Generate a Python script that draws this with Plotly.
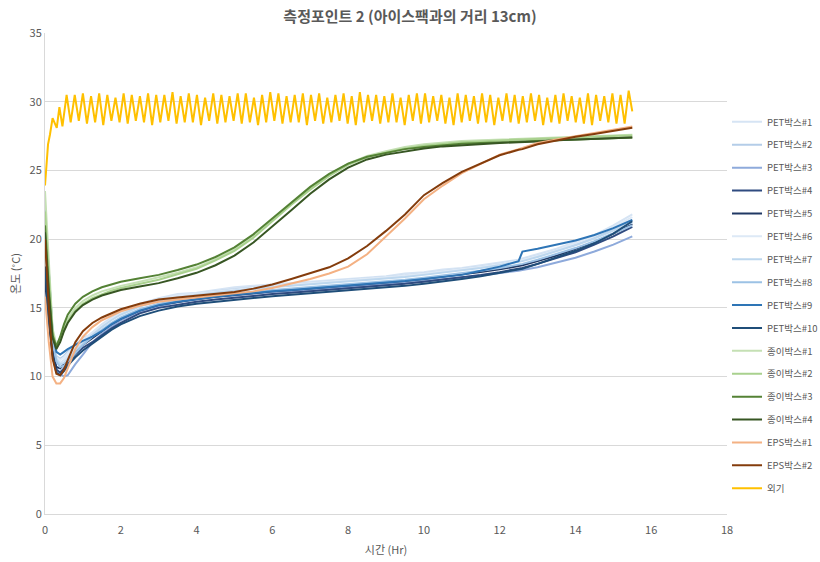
import plotly.graph_objects as go

# ---------------- data ----------------
t_hr = [0, 0.1, 0.2, 0.3, 0.4, 0.5, 0.6, 0.8, 1.0, 1.25, 1.5, 1.75, 2.0, 2.5, 3.0, 3.5, 4.0, 4.5, 5.0, 5.5,
        6.0, 6.5, 7.0, 7.5, 8.0, 8.5, 9.0, 9.5, 10.0, 10.5, 11.0, 11.5, 12.0, 12.5, 12.6, 13.0, 13.5, 14.0,
        14.5, 15.0, 15.5]

pet1 = [18.5, 15.5, 12.5, 11.2, 11.0, 11.2, 11.5, 12.1, 12.6, 13.2, 13.8, 14.3, 14.7, 15.3, 15.7, 16.0, 16.1,
        16.3, 16.5, 16.6, 16.7, 16.8, 16.9, 17.0, 17.1, 17.2, 17.3, 17.5, 17.6, 17.8, 17.9, 18.1, 18.3, 18.5,
        18.6, 18.9, 19.3, 19.8, 20.3, 21.0, 21.8]
pet2 = [22.0, 17.0, 13.0, 11.5, 11.3, 11.5, 11.8, 12.3, 12.8, 13.1, 13.7, 14.2, 14.6, 15.2, 15.6, 15.85, 16.05,
        16.2, 16.35, 16.5, 16.6, 16.7, 16.8, 16.9, 17.0, 17.1, 17.2, 17.35, 17.5, 17.65, 17.8, 18.0, 18.2, 18.45,
        18.5, 18.8, 19.2, 19.6, 20.1, 20.7, 21.4]
pet3 = [21.0, 16.0, 12.3, 10.6, 10.2, 10.0, 10.1, 10.9, 11.6, 12.5, 13.1, 13.6, 14.1, 14.7, 15.1, 15.4, 15.6,
        15.8, 15.9, 16.05, 16.15, 16.2, 16.3, 16.4, 16.5, 16.55, 16.7, 16.8, 16.95, 17.05, 17.2, 17.35, 17.5,
        17.7, 17.75, 17.95, 18.3, 18.65, 19.1, 19.6, 20.2]
pet4 = [18.0, 14.5, 11.8, 10.5, 10.3, 10.6, 11.0, 11.6, 12.1, 12.5, 13.0, 13.5, 13.9, 14.6, 15.0, 15.25, 15.45,
        15.6, 15.75, 15.9, 16.0, 16.1, 16.2, 16.3, 16.4, 16.5, 16.6, 16.75, 16.9, 17.05, 17.2, 17.4, 17.6, 17.85,
        17.9, 18.2, 18.6, 19.05, 19.6, 20.2, 20.9]
pet5 = [17.0, 14.0, 11.6, 10.7, 10.6, 10.9, 11.2, 11.8, 12.3, 12.8, 13.3, 13.8, 14.2, 14.8, 15.2, 15.45, 15.65,
        15.8, 15.95, 16.1, 16.2, 16.3, 16.4, 16.5, 16.6, 16.7, 16.8, 16.95, 17.1, 17.25, 17.4, 17.6, 17.8, 18.05,
        18.1, 18.4, 18.8, 19.3, 19.8, 20.4, 21.1]
pet6 = [19.5, 16.0, 12.8, 11.4, 11.2, 11.4, 11.7, 12.2, 12.7, 13.2, 13.7, 14.2, 14.6, 15.2, 15.6, 15.9, 16.05,
        16.2, 16.35, 16.5, 16.6, 16.7, 16.8, 16.9, 17.0, 17.1, 17.2, 17.35, 17.5, 17.65, 17.8, 18.0, 18.2, 18.45,
        18.5, 18.8, 19.2, 19.7, 20.2, 20.9, 21.6]
pet7 = [20.5, 16.5, 12.9, 11.3, 10.9, 11.0, 11.3, 11.9, 12.4, 13.0, 13.6, 14.1, 14.5, 15.1, 15.5, 15.75, 15.95,
        16.1, 16.25, 16.4, 16.5, 16.6, 16.7, 16.8, 16.9, 17.0, 17.1, 17.25, 17.4, 17.55, 17.7, 17.9, 18.1, 18.35,
        18.4, 18.7, 19.1, 19.55, 20.05, 20.6, 21.2]
pet8 = [21.5, 16.8, 12.7, 11.1, 10.7, 10.8, 11.1, 11.7, 12.3, 12.9, 13.4, 13.9, 14.3, 14.9, 15.3, 15.55, 15.75,
        15.9, 16.05, 16.2, 16.3, 16.4, 16.5, 16.6, 16.7, 16.8, 16.9, 17.05, 17.2, 17.35, 17.5, 17.7, 17.9, 18.15,
        18.2, 18.5, 18.9, 19.35, 19.85, 20.4, 21.0]
pet9 = [22.2, 17.5, 13.3, 11.8, 11.6, 11.8, 12.0, 12.3, 12.6, 12.9, 13.3, 13.8, 14.2, 14.8, 15.2, 15.45, 15.65,
        15.8, 15.95, 16.1, 16.2, 16.3, 16.4, 16.5, 16.6, 16.7, 16.8, 16.95, 17.1, 17.25, 17.4, 17.7, 18.0, 18.4,
        19.1, 19.3, 19.6, 19.9, 20.3, 20.8, 21.4]
pet10 = [18.0, 14.2, 11.5, 10.3, 10.1, 10.4, 10.8, 11.4, 11.9, 12.4, 12.9, 13.4, 13.8, 14.4, 14.8, 15.1, 15.3,
         15.45, 15.6, 15.75, 15.85, 15.95, 16.05, 16.15, 16.25, 16.35, 16.45, 16.6, 16.75, 16.9, 17.1, 17.3,
         17.55, 17.8, 17.85, 18.2, 18.65, 19.15, 19.7, 20.4, 21.3]

paper1 = [23.5, 18.0, 13.5, 12.3, 12.8, 13.6, 14.2, 15.0, 15.5, 15.9, 16.2, 16.4, 16.6, 16.9, 17.2, 17.55, 17.95,
          18.55, 19.25, 20.2, 21.4, 22.6, 23.7, 24.7, 25.5, 26.05, 26.4, 26.7, 26.9, 27.05, 27.15, 27.2, 27.25,
          27.3, 27.3, 27.35, 27.4, 27.45, 27.5, 27.55, 27.6]
paper2 = [22.0, 17.2, 13.2, 12.1, 12.6, 13.4, 14.0, 14.8, 15.3, 15.7, 16.0, 16.25, 16.45, 16.75, 17.05, 17.45,
          17.85, 18.45, 19.15, 20.1, 21.3, 22.5, 23.6, 24.6, 25.4, 25.95, 26.3, 26.6, 26.8, 26.95, 27.05, 27.1,
          27.2, 27.25, 27.25, 27.3, 27.35, 27.4, 27.45, 27.5, 27.55]
paper3 = [21.0, 16.5, 13.0, 12.2, 12.9, 13.8, 14.5, 15.3, 15.8, 16.2, 16.5, 16.7, 16.9, 17.15, 17.4, 17.75, 18.15,
          18.7, 19.4, 20.35, 21.5, 22.7, 23.8, 24.75, 25.5, 26.0, 26.3, 26.55, 26.7, 26.85, 26.95, 27.0, 27.05,
          27.1, 27.1, 27.15, 27.2, 27.25, 27.3, 27.35, 27.4]
paper4 = [20.5, 16.0, 12.8, 12.0, 12.5, 13.3, 13.9, 14.7, 15.2, 15.6, 15.9, 16.1, 16.3, 16.55, 16.8, 17.15, 17.55,
          18.1, 18.8, 19.75, 20.9, 22.1, 23.3, 24.35, 25.2, 25.8, 26.15, 26.4, 26.6, 26.75, 26.85, 26.95, 27.0,
          27.05, 27.05, 27.1, 27.2, 27.25, 27.3, 27.35, 27.4]

eps1 = [15.8, 12.5, 10.0, 9.5, 9.5, 9.9, 10.6, 12.0, 12.9, 13.6, 14.1, 14.45, 14.75, 15.15, 15.45, 15.6, 15.75,
        15.85, 16.0, 16.2, 16.45, 16.75, 17.1, 17.5, 18.0, 18.9, 20.2, 21.5, 22.9, 23.9, 24.8, 25.5, 26.15, 26.55,
        26.65, 27.0, 27.25, 27.5, 27.7, 27.95, 28.2]
eps2 = [20.0, 15.0, 11.3, 10.2, 10.1, 10.5, 11.2, 12.5, 13.3, 13.9, 14.3, 14.6, 14.9, 15.3, 15.6, 15.75, 15.9,
        16.0, 16.15, 16.4, 16.7, 17.1, 17.55, 17.95, 18.6, 19.5, 20.6, 21.8, 23.2, 24.1, 24.9, 25.5, 26.1, 26.5,
        26.55, 26.9, 27.2, 27.45, 27.65, 27.9, 28.1]

# outside air: first warm-up readings, then alternating peak / trough readings of the regular cycle
out_t_start = [0, 0.04, 0.08, 0.13, 0.2, 0.31, 0.38, 0.46]
out_v_start = [23.9, 25.6, 26.9, 27.6, 28.8, 28.1, 29.6, 28.2]
out_cycle_start_hr = 0.57
out_half_cycle_hr = 0.1075
out_peaks = [30.5, 30.5, 30.6, 30.4, 30.6, 30.5, 30.3, 30.6, 30.5, 30.4,
             30.6, 30.5, 30.5, 30.7, 30.4, 30.6, 30.5, 30.3, 30.6, 30.5,
             30.4, 30.6, 30.6, 30.3, 30.5, 30.7, 30.6, 30.4, 30.5, 30.6,
             30.5, 30.6, 30.3, 30.5, 30.6, 30.4, 30.7, 30.5, 30.5, 30.4,
             30.6, 30.3, 30.5, 30.6, 30.6, 30.4, 30.5, 30.3, 30.6, 30.5,
             30.4, 30.6, 30.5, 30.3, 30.6, 30.5, 30.4, 30.6, 30.5, 30.3,
             30.5, 30.6, 30.4, 30.3, 30.6, 30.5, 30.4, 30.6, 30.5, 30.8]
out_troughs = [28.5, 28.6, 28.4, 28.5, 28.3, 28.6, 28.5, 28.4, 28.6, 28.5,
               28.3, 28.5, 28.6, 28.4, 28.5, 28.5, 28.3, 28.6, 28.4, 28.5,
               28.6, 28.4, 28.5, 28.3, 28.5, 28.6, 28.4, 28.5, 28.5, 28.3,
               28.6, 28.4, 28.5, 28.6, 28.4, 28.3, 28.5, 28.6, 28.4, 28.5,
               28.5, 28.3, 28.6, 28.4, 28.5, 28.6, 28.4, 28.3, 28.5, 28.6,
               28.4, 28.5, 28.3, 28.6, 28.5, 28.4, 28.5, 28.6, 28.3, 28.5,
               28.4, 28.6, 28.5, 28.4, 28.3, 28.6, 28.5, 28.4, 28.4]
out_t_end = 15.5
out_v_end = 29.3

series_names = ["PET박스#1", "PET박스#2", "PET박스#3", "PET박스#4", "PET박스#5", "PET박스#6", "PET박스#7",
                "PET박스#8", "PET박스#9", "PET박스#10", "종이박스#1", "종이박스#2", "종이박스#3", "종이박스#4",
                "EPS박스#1", "EPS박스#2", "외기"]
series_colors = ["#d6e4f4", "#b4cde8", "#8eaadb", "#2f4b80", "#203864", "#dde9f6", "#bdd7ee", "#9cc2e5",
                 "#2e75b6", "#1f4e79", "#c5e0b4", "#a9d18e", "#548235", "#375623", "#f4b183", "#843c0c",
                 "#ffc000"]

title_text = "측정포인트 2 (아이스팩과의 거리 13cm)"
x_title = "시간 (Hr)"
y_title = "온도 (˚C)"

# ---------------- build ----------------
out_t = list(out_t_start)
out_v = list(out_v_start)
for k in range(len(out_peaks) + len(out_troughs)):
    out_t.append(round(out_cycle_start_hr + k * out_half_cycle_hr, 4))
    out_v.append(out_peaks[k // 2] if k % 2 == 0 else out_troughs[k // 2])
out_t.append(out_t_end)
out_v.append(out_v_end)

values = [pet1, pet2, pet3, pet4, pet5, pet6, pet7, pet8, pet9, pet10,
          paper1, paper2, paper3, paper4, eps1, eps2]

FONT = "Noto Sans CJK KR"
fig = go.Figure()
for i, (name, col) in enumerate(zip(series_names, series_colors)):
    if i < len(values):
        xs, ys = t_hr, values[i]
    else:
        xs, ys = out_t, out_v
    fig.add_trace(go.Scatter(x=xs, y=ys, name=name, mode="lines",
                             line=dict(color=col, width=2), legendgroup=name))

fig.update_layout(
    width=820, height=562,
    margin=dict(l=45, r=90, t=33, b=48),
    paper_bgcolor="white", plot_bgcolor="white",
    font=dict(family=FONT, size=11, color="#595959"),
    title=dict(text=title_text, x=0.5, xanchor="center", y=0.970, yanchor="middle",
               font=dict(family=FONT, size=15, color="#595959", weight="bold")),
    showlegend=True,
    legend=dict(xref="container", yref="container", x=0.8866, xanchor="left", y=0.809, yanchor="top",
                traceorder="grouped", tracegroupgap=3.9, itemwidth=30, maxheight=450,
                font=dict(size=9.5, color="#595959"), bgcolor="rgba(0,0,0,0)"),
    xaxis=dict(range=[0, 18], dtick=2, tick0=0, showgrid=False, zeroline=False, automargin=False,
               showline=True, linecolor="#d9d9d9", linewidth=1, ticks="", ticklabelstandoff=6,
               title=dict(text=x_title, font=dict(size=11, color="#595959"), standoff=10),
               tickfont=dict(size=11, color="#595959")),
    yaxis=dict(range=[0, 35], dtick=5, tick0=0, showgrid=True, gridcolor="#d9d9d9", gridwidth=1,
               zeroline=False, showline=True, linecolor="#d9d9d9", linewidth=1, ticks="", automargin=False,
               title=dict(text=y_title, font=dict(size=11, color="#595959"), standoff=6),
               tickfont=dict(size=11, color="#595959")),
)

fig.write_html("out.html", config={"displayModeBar": False},
               post_script="document.body.style.margin='0';document.body.style.overflow='hidden';")
